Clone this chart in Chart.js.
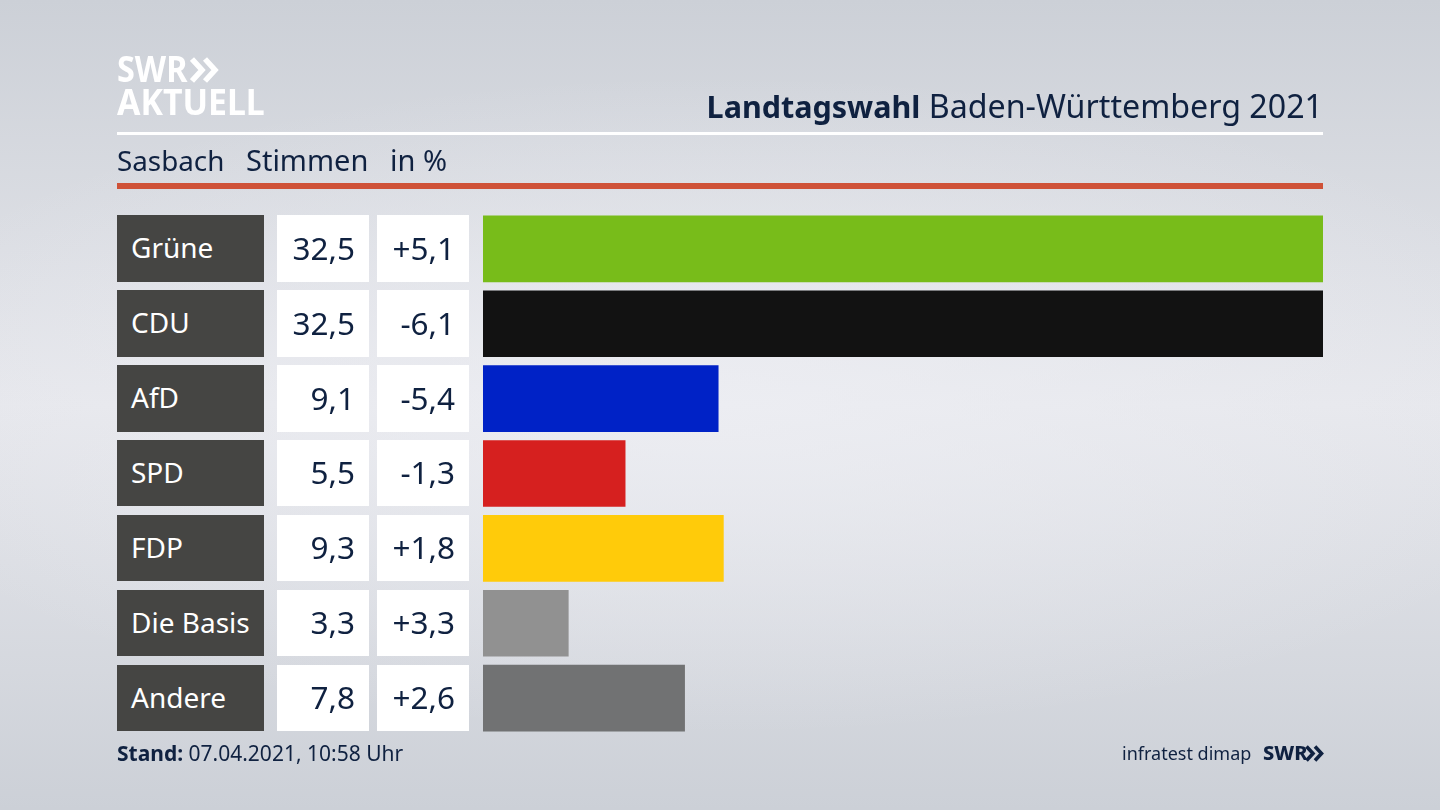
<!DOCTYPE html>
<html lang="de">
<head>
<meta charset="utf-8">
<title>Landtagswahl Baden-Württemberg 2021</title>
<script src="https://cdn.jsdelivr.net/npm/chart.js@4"></script>
<style>
    html, body { margin: 0; padding: 0; }
    body {
        width: 1440px; height: 810px; overflow: hidden; position: relative;
        font-family: "Noto Sans", sans-serif; color: #0f2140;
        background:
            radial-gradient(ellipse 900px 330px at 50% 50%, rgba(238,239,244,0.75), rgba(238,239,244,0) 100%),
            linear-gradient(180deg, #ccd0d7 0%, #e6e7ec 50%, #ccd0d7 100%);
    }
    canvas { position: absolute; left: 0; top: 0; }
    .abs { position: absolute; white-space: nowrap; }
    .rule { position: absolute; left: 117px; width: 1206px; }
    .cell { position: absolute; font-size: 31.5px; display: flex; align-items: center; box-sizing: border-box; padding-bottom: 3px; }
    .name { left: 117px; width: 147px; background: #454543; color: #fff; padding-left: 14px; font-size: 28px; }
    .num { background: #fff; justify-content: flex-end; padding-right: 14px; }
    .val { left: 277px; width: 92px; }
    .diff { left: 377px; width: 92px; }
</style>
</head>
<body>
<canvas id="chart" width="1440" height="810"></canvas>

<div class="abs" style="left:117px;top:48px;font-size:36px;line-height:42px;font-weight:700;color:#fff;transform:scaleX(0.9);transform-origin:left">SWR</div>
<svg class="abs" style="left:190px;top:57px" width="30" height="26" viewBox="0 0 30 26" fill="none" stroke="#fff" stroke-width="5.5">
    <polyline points="2,2 12,13 2,24"/><polyline points="15,2 25,13 15,24"/>
</svg>
<div class="abs" style="left:117px;top:81px;font-size:36px;line-height:42px;font-weight:700;color:#fff;transform:scaleX(0.94);transform-origin:left">AKTUELL</div>

<div class="abs" style="right:117px;top:85px;font-size:32.2px;line-height:42px"><b style="font-size:30.5px">Landtagswahl</b> Baden-Württemberg 2021</div>
<div class="rule" style="top:132px;height:3px;background:#fff"></div>
<div class="abs" style="left:117px;top:140px;font-size:27.8px;line-height:40px">Sasbach</div>
<div class="abs" style="left:246px;top:140px;font-size:29px;line-height:40px">Stimmen</div>
<div class="abs" style="left:390px;top:140px;font-size:29px;line-height:40px">in %</div>
<div class="rule" style="top:183px;height:6px;background:#cf5238"></div>

<div id="rows"></div>

<div class="abs" style="left:117px;top:738px;font-size:21px;line-height:30px"><b>Stand:</b> 07.04.2021, 10:58 Uhr</div>
<div class="abs" style="left:1122px;top:738px;font-size:18px;line-height:30px">infratest dimap</div>
<div class="abs" style="left:1263px;top:738px;font-size:20px;line-height:30px;font-weight:800">SWR</div>
<svg class="abs" style="left:1305px;top:745px" width="19" height="17" viewBox="0 0 19 17" fill="none" stroke="#0f2140" stroke-width="3.6">
    <polyline points="1.5,1.5 8,8.5 1.5,15.5"/><polyline points="10,1.5 16.5,8.5 10,15.5"/>
</svg>

<script>
const parties = ['Grüne', 'CDU', 'AfD', 'SPD', 'FDP', 'Die Basis', 'Andere'];
const votes = [32.5, 32.5, 9.1, 5.5, 9.3, 3.3, 7.8];
const changes = [5.1, -6.1, -5.4, -1.3, 1.8, 3.3, 2.6];
const barColors = ['#78bc1a', '#121212', '#0022c6', '#d6201f', '#ffcb0a', '#919191', '#717273'];

// German number format, one decimal
function formatNum(num) {
    return num.toFixed(1).replace('.', ',');
}
function formatChange(num) {
    return (num > 0 ? '+' : '') + formatNum(num);
}

// Table cells left of the bars follow the y scale
const rowsPlugin = {
    id: 'rows',
    afterRender(chart) {
        const box = document.getElementById('rows');
        if (box.childElementCount) return;
        const yScale = chart.scales.y;
        parties.forEach((party, i) => {
            const center = yScale.getPixelForValue(i);
            const top = Math.round(center - 33.5);
            const bottom = Math.round(center + 32.9);
            const cells = [
                ['name', party],
                ['num val', formatNum(votes[i])],
                ['num diff', formatChange(changes[i])]
            ];
            cells.forEach(([cls, text]) => {
                const div = document.createElement('div');
                div.className = 'cell ' + cls;
                div.style.top = top + 'px';
                div.style.height = (bottom - top) + 'px';
                div.textContent = text;
                box.appendChild(div);
            });
        });
    }
};

const ctx = document.getElementById('chart').getContext('2d');
new Chart(ctx, {
    type: 'bar',
    data: {
        labels: parties,
        datasets: [{
            data: votes,
            backgroundColor: barColors,
            barThickness: 66,
            borderWidth: 0
        }]
    },
    options: {
        indexAxis: 'y',
        responsive: false,
        animation: false,
        layout: { padding: { left: 483, right: 117, top: 211.5, bottom: 74.5 } },
        plugins: { legend: { display: false }, tooltip: { enabled: false } },
        scales: {
            x: { display: false, min: 0, max: 32.5 },
            y: { display: false }
        }
    },
    plugins: [rowsPlugin]
});
</script>
</body>
</html>
